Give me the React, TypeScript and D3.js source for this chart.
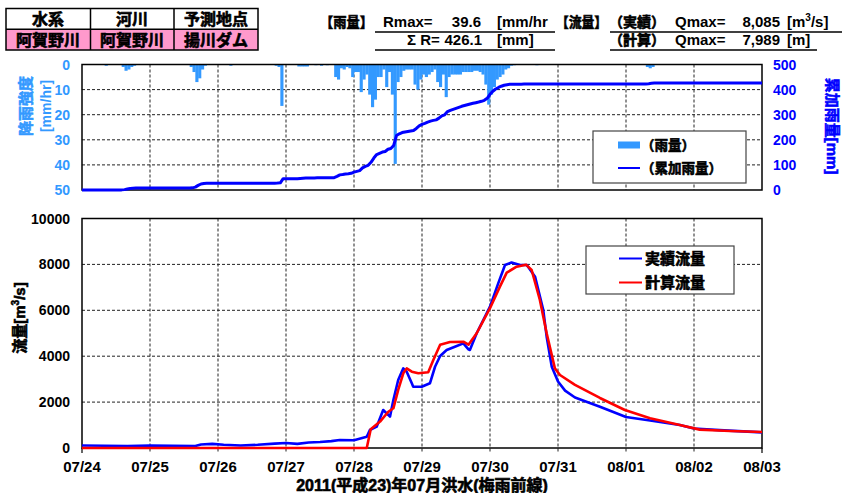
import React from "react";
import * as d3 from "d3";

// Event period: 2011-07-24 00:00 to 2011-08-03 00:00
const START = new Date(2011, 6, 24, 0, 0);
const END = new Date(2011, 7, 3, 0, 0);

// Hourly basin rainfall [mm/hr], one row per day from 07/24 to 08/02
const rainfall = [
  0, 0, 0, 0, 0, 0, 0, 0, 0.5, 0, 0, 0, 0, 0, 1, 2.5, 2, 1, 0.5, 0, 0, 0, 0, 0,
  0, 0, 0, 0, 0, 0, 0, 0, 0, 0, 0, 0, 0, 0, 1, 3, 7, 5.5, 2, 0.5, 0, 0, 0, 0,
  0, 0, 0, 0, 0.5, 0, 0, 0, 0, 0, 0, 0, 0, 0, 0, 0, 0, 0, 0, 0, 0.5, 1, 16.5, 0,
  0, 0, 0, 0, 0.8, 0.8, 0.8, 0.8, 0, 0, 0.3, 0, 0.5, 0, 0.3, 0, 0, 5, 6, 1.5, 2, 1, 1.5, 5,
  3, 3, 11, 6, 4, 12, 17, 14, 5, 5, 2, 9, 3, 12, 39.6, 7, 5, 2.5, 2, 2, 2, 8, 10, 6,
  4, 5, 4, 3, 2, 7, 9, 4, 13, 5, 4, 4, 4, 4, 3, 3, 3, 3, 2.5, 2.5, 3, 4, 8, 16,
  12, 9, 6, 5, 4, 2, 1.5, 0.5, 0.3, 0, 0, 0.2, 0, 0.2, 0, 0, 0.3, 0, 0, 0.2, 0, 0, 0, 0,
  0, 0, 0, 0, 0, 0, 0, 0, 0, 0, 0, 0, 0, 0, 0, 0, 0, 0, 0, 0, 0, 0, 0, 0,
  0, 0, 0, 0, 0, 0, 0, 1, 1.5, 1, 0, 0, 0, 0, 0, 0, 0, 0, 0, 0, 0, 0, 0, 0,
  0, 0, 0, 0, 0, 0, 0, 0, 0, 0, 0, 0, 0, 0, 0, 0, 0, 0, 0, 0, 0, 0, 0, 0,
];

// Observed discharge [m3/s] at hours elapsed from 07/24 00:00
const obsHours = [
  0, 8, 16, 24, 32, 40, 42, 46, 50, 56, 62, 68, 72, 76, 80, 84, 88, 91, 96, 100.5,
  101.6, 104, 106.3, 108.1, 108.7, 109.9, 111.6, 113.4, 114.6, 116.4, 116.9, 119.9,
  122.8, 124.6, 126.4, 128.7, 131.6, 134.6, 136.4, 136.9, 139.3, 144, 146.9, 149.3,
  151.6, 154.6, 157, 159.9, 162.8, 164, 165.8, 168, 170.5, 174, 182.8, 192, 200.5,
  211, 216, 225, 240,
];
const obsFlow = [
  110, 100, 90, 110, 100, 90, 150, 180, 140, 110, 140, 190, 220, 180, 240, 260, 300, 350, 340, 490,
  785, 930, 1655, 1440, 1365, 2090, 2960, 3470, 3325, 2820, 2670, 2670,
  2820, 3540, 4010, 4270, 4410, 4560, 4300, 4270, 5000, 6160, 7175, 7975,
  8085, 7975, 7975, 7465, 6010, 4850, 3540, 2900, 2500, 2200, 1800, 1350, 1200,
  1000, 850, 780, 680,
];

// Computed discharge [m3/s] at hours elapsed from 07/24 00:00
const calcHours = [
  0, 100.5, 101.9, 105.2, 108.1, 109.9, 111.6, 113.4, 114.6, 116.4, 118.7, 122.2,
  124, 126.4, 129.9, 134.6, 136.4, 139.3, 144, 147.5, 149.9, 153.4, 156.7, 158.7,
  161.6, 164, 166.9, 168.7, 174, 182.8, 191.6, 200.5, 211, 218, 228.7, 240,
];
const calcFlow = [
  0, 0, 815, 1150, 1580, 1730, 2530, 3255, 3470, 3325, 3255, 3300,
  3835, 4500, 4620, 4630, 4500, 5000, 6090, 7030, 7640, 7900, 7989, 7755,
  6450, 5000, 3470, 3180, 2750, 2180, 1655, 1300, 1000, 800, 740, 700,
];

const rainTicks = [0, 10, 20, 30, 40, 50];
const cumTicks = [0, 100, 200, 300, 400, 500];
const flowTicks = [0, 2000, 4000, 6000, 8000, 10000];

const FONT = "'Liberation Sans', Arial, 'Noto Sans CJK JP', sans-serif";
const RAIN_COLOR = "#3399FF";
const CUM_COLOR = "#0000FF";
const OBS_COLOR = "#0000FF";
const CALC_COLOR = "#FF0000";

const L = 82;
const R = 762;
const TOP_Y0 = 64.5;
const TOP_Y1 = 190;
const BOT_Y0 = 218.5;
const BOT_Y1 = 448;

const hourToDate = (h: number) => new Date(START.getTime() + h * 3600e3);

// heavier weight for Japanese glyphs
const heavy = (color = "#000") => ({ stroke: color, strokeWidth: 0.6, paintOrder: "stroke" as const });

export default function App() {
  const x = d3.scaleTime().domain([START, END]).range([L, R]);
  const days = d3.timeDay.range(START, d3.timeDay.offset(END, 1));
  const fmtDay = d3.timeFormat("%m/%d");

  const yRain = d3.scaleLinear().domain([0, 50]).range([TOP_Y0, TOP_Y1]);
  const yCum = d3.scaleLinear().domain([0, 500]).range([TOP_Y1, TOP_Y0]);
  const yQ = d3.scaleLinear().domain([0, 10000]).range([BOT_Y1, BOT_Y0]);

  // cumulative rainfall, 0 at the start then one value per hour end
  const cum: [number, number][] = [[0, 0]];
  let acc = 0;
  rainfall.forEach((v, i) => {
    acc += v;
    cum.push([i + 1, acc]);
  });
  const rMax = d3.max(rainfall) as number;
  const rSum = d3.sum(rainfall);
  const qObsMax = d3.max(obsFlow) as number;
  const qCalcMax = d3.max(calcFlow) as number;

  const cumLine = d3
    .line<[number, number]>()
    .x((d) => x(hourToDate(d[0])))
    .y((d) => yCum(d[1]));
  const flowLine = d3
    .line<[number, number]>()
    .x((d) => x(hourToDate(d[0])))
    .y((d) => yQ(d[1]));

  const obsPts = obsHours.map((h, i) => [h, obsFlow[i]] as [number, number]);
  const calcPts = calcHours.map((h, i) => [h, calcFlow[i]] as [number, number]);

  const innerDays = days.slice(1, -1);
  const grid = { stroke: "#222", strokeWidth: 1, strokeDasharray: "3,2" };

  const fmt1 = d3.format(".1f");
  const fmtQ = d3.format(",");

  return (
    <>
      <style>{"body{margin:0;background:#fff}"}</style>
      <svg
        width={842}
        height={493}
        style={{ display: "block", background: "#fff" }}
        fontFamily={FONT}
        fontWeight="bold"
      >
        {/* station table */}
        <g>
          <rect x={6} y={8.5} width={252} height={20.8} fill="#fff" />
          <rect x={6} y={29.3} width={252} height={20.7} fill="#FF99CC" />
          <rect x={6} y={8.5} width={252} height={41.5} fill="none" stroke="#000" strokeWidth={1.5} />
          <line x1={6} x2={258} y1={29.3} y2={29.3} stroke="#000" strokeWidth={1.5} />
          <line x1={90.5} x2={90.5} y1={8.5} y2={50} stroke="#000" strokeWidth={1.5} />
          <line x1={174} x2={174} y1={8.5} y2={50} stroke="#000" strokeWidth={1.5} />
          {[
            ["水系", 48],
            ["河川", 132],
            ["予測地点", 216],
          ].map(([t, cx]) => (
            <text key={t as string} x={cx as number} y={25} textAnchor="middle" fontSize={16} {...heavy()}>
              {t}
            </text>
          ))}
          {[
            ["阿賀野川", 48],
            ["阿賀野川", 132],
            ["揚川ダム", 216],
          ].map(([t, cx], i) => (
            <text key={i} x={cx as number} y={46} textAnchor="middle" fontSize={16} {...heavy()}>
              {t}
            </text>
          ))}
        </g>

        {/* summary figures */}
        <g fontSize={15}>
          <text x={320} y={27} fontSize={14} textLength={53} lengthAdjust="spacingAndGlyphs" {...heavy()}>【雨量】</text>
          <text x={383} y={27}>Rmax=</text>
          <text x={481} y={27} textAnchor="end">{fmt1(rMax)}</text>
          <text x={497} y={27}>[mm/hr</text>
          <line x1={375} x2={555} y1={32} y2={32} stroke="#000" strokeWidth={1.5} />
          <text x={407} y={45}>Σ R=</text>
          <text x={482} y={45} textAnchor="end">{fmt1(rSum)}</text>
          <text x={497} y={45}>[mm]</text>
          <line x1={375} x2={555} y1={50} y2={50} stroke="#000" strokeWidth={1.5} />

          <text x={556} y={27} fontSize={14} textLength={51} lengthAdjust="spacingAndGlyphs" {...heavy()}>【流量】</text>
          <text x={609} y={27} fontSize={14} textLength={56} lengthAdjust="spacingAndGlyphs" {...heavy()}>（実績）</text>
          <text x={675} y={27}>Qmax=</text>
          <text x={780} y={27} textAnchor="end">{fmtQ(qObsMax)}</text>
          <text x={787} y={27}>
            [m<tspan fontSize={10} dy={-6}>3</tspan>
            <tspan dy={6}>/s]</tspan>
          </text>
          <line x1={610} x2={842} y1={32} y2={32} stroke="#000" strokeWidth={1.5} />
          <text x={609} y={45} fontSize={14} textLength={56} lengthAdjust="spacingAndGlyphs" {...heavy()}>（計算）</text>
          <text x={675} y={45}>Qmax=</text>
          <text x={780} y={45} textAnchor="end">{fmtQ(qCalcMax)}</text>
          <text x={787} y={45}>[m]</text>
          <line x1={610} x2={817} y1={50} y2={50} stroke="#000" strokeWidth={1.5} />
        </g>

        {/* rainfall panel */}
        <g>
          <rect x={L} y={TOP_Y0} width={R - L} height={TOP_Y1 - TOP_Y0} fill="#fff" />
          {rainTicks.slice(1, -1).map((t) => (
            <line key={t} x1={L} x2={R} y1={yRain(t)} y2={yRain(t)} {...grid} />
          ))}
          {innerDays.map((d) => (
            <line key={+d} x1={x(d)} x2={x(d)} y1={TOP_Y0} y2={TOP_Y1} {...grid} />
          ))}
          {rainfall.map((v, i) =>
            v > 0 ? (
              <rect
                key={i}
                x={x(hourToDate(i))}
                y={TOP_Y0}
                width={x(hourToDate(i + 1)) - x(hourToDate(i)) + 0.3}
                height={yRain(v) - TOP_Y0}
                fill={RAIN_COLOR}
              />
            ) : null
          )}
          <rect x={L} y={TOP_Y0} width={R - L} height={TOP_Y1 - TOP_Y0} fill="none" stroke="#000" strokeWidth={1.5} />
          <path d={cumLine(cum) as string} fill="none" stroke={CUM_COLOR} strokeWidth={3} strokeLinejoin="round" />

          {rainTicks.map((t) => (
            <text key={t} x={70} y={yRain(t)} dy="0.36em" textAnchor="end" fontSize={14} fill={RAIN_COLOR}>
              {t}
            </text>
          ))}
          {cumTicks.map((t) => (
            <text key={t} x={773} y={yCum(t)} dy="0.36em" fontSize={14} fill={CUM_COLOR}>
              {t}
            </text>
          ))}
          <text transform="translate(26,106) rotate(-90)" textAnchor="middle" dy="0.35em" fontSize={15} fill={RAIN_COLOR} {...heavy(RAIN_COLOR)}>
            降雨強度
          </text>
          <text transform="translate(46,106) rotate(-90)" textAnchor="middle" dy="0.35em" fontSize={14} fill={RAIN_COLOR}>
            [mm/hr]
          </text>
          <text transform="translate(832,126) rotate(90)" textAnchor="middle" dy="0.35em" fontSize={15} fill={CUM_COLOR} {...heavy(CUM_COLOR)}>
            累加雨量[mm]
          </text>

          {/* legend */}
          <rect x={593} y={131} width={153} height={52} fill="#fff" stroke="#444" strokeWidth={1.2} />
          <rect x={618} y={141.5} width={22} height={7} fill={RAIN_COLOR} />
          <text x={641} y={145} dy="0.35em" fontSize={13.5} {...heavy()}>（雨量）</text>
          <line x1={618} x2={640} y1={168} y2={168} stroke={CUM_COLOR} strokeWidth={2} />
          <text x={641} y={168} dy="0.35em" fontSize={13.5} {...heavy()}>（累加雨量）</text>
        </g>

        {/* discharge panel */}
        <g>
          <rect x={L} y={BOT_Y0} width={R - L} height={BOT_Y1 - BOT_Y0} fill="#fff" />
          {flowTicks.slice(1, -1).map((t) => (
            <line key={t} x1={L} x2={R} y1={yQ(t)} y2={yQ(t)} {...grid} />
          ))}
          {innerDays.map((d) => (
            <line key={+d} x1={x(d)} x2={x(d)} y1={BOT_Y0} y2={BOT_Y1 + 5} {...grid} />
          ))}
          {[days[0], days[days.length - 1]].map((d) => (
            <line key={+d} x1={x(d)} x2={x(d)} y1={BOT_Y1} y2={BOT_Y1 + 5} stroke="#000" strokeWidth={1.2} />
          ))}
          <rect x={L} y={BOT_Y0} width={R - L} height={BOT_Y1 - BOT_Y0} fill="none" stroke="#000" strokeWidth={1.5} />
          <path d={flowLine(obsPts) as string} fill="none" stroke={OBS_COLOR} strokeWidth={2.6} strokeLinejoin="round" />
          <path d={flowLine(calcPts) as string} fill="none" stroke={CALC_COLOR} strokeWidth={2.6} strokeLinejoin="round" />

          {flowTicks.map((t) => (
            <text key={t} x={70} y={yQ(t)} dy="0.36em" textAnchor="end" fontSize={14}>
              {t}
            </text>
          ))}
          {days.map((d) => (
            <text key={+d} x={x(d)} y={472} textAnchor="middle" fontSize={15}>
              {fmtDay(d)}
            </text>
          ))}
          <text transform="translate(20,318) rotate(-90)" textAnchor="middle" dy="0.35em" fontSize={15} {...heavy()}>
            流量[m<tspan fontSize={10} dy={-6}>3</tspan>
            <tspan dy={6}>/s]</tspan>
          </text>
          <text x={422} y={491} textAnchor="middle" fontSize={16} {...heavy()}>
            2011(平成23)年07月洪水(梅雨前線)
          </text>

          {/* legend */}
          <rect x={586} y={246} width={148} height={48} fill="#fff" stroke="#444" strokeWidth={1.2} />
          <line x1={619} x2={642} y1={258.5} y2={258.5} stroke={OBS_COLOR} strokeWidth={2} />
          <text x={645} y={258.5} dy="0.35em" fontSize={15} {...heavy()}>実績流量</text>
          <line x1={619} x2={642} y1={282.5} y2={282.5} stroke={CALC_COLOR} strokeWidth={2} />
          <text x={645} y={282.5} dy="0.35em" fontSize={15} {...heavy()}>計算流量</text>
        </g>
      </svg>
    </>
  );
}
